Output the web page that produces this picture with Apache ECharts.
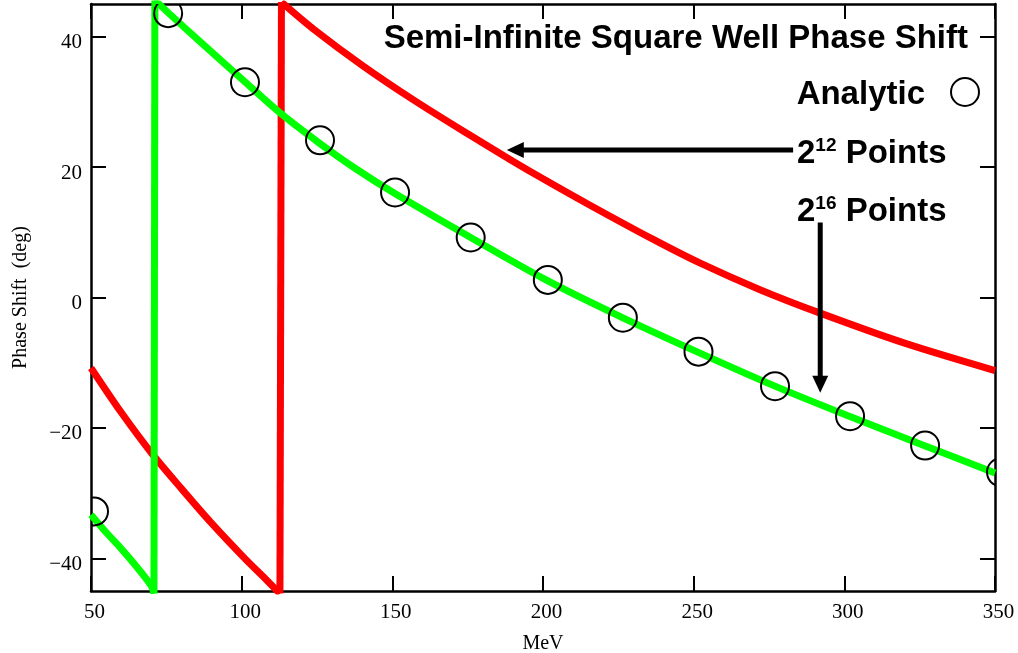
<!DOCTYPE html>
<html>
<head>
<meta charset="utf-8">
<script src="https://cdn.jsdelivr.net/npm/echarts@6/dist/echarts.min.js"></script>
<style>
  html, body { margin: 0; padding: 0; background: #fff; }
  #chart { width: 1018px; height: 653px; }
</style>
</head>
<body>
<div id="chart"></div>
<script>
// Phase shift (deg) vs energy (MeV), wrapped into [-45, 45]; each curve has two branches
const mev12Lo = [50, 60, 70, 80, 90, 101, 108, 112.7];
const deg12Lo = [-10.8, -17.6, -23.8, -29.3, -34.6, -40.0, -43.2, -45.4];
const mev12Hi = [113.2, 124, 140, 157, 175, 190, 200, 215, 236.6, 252, 272, 292, 320, 350];
const deg12Hi = [45.3, 41.1, 35.6, 30.3, 25.1, 20.9, 18.2, 14.3, 8.9, 5.3, 1.2, -2.4, -7.0, -11.2];

const mev16Lo = [50, 55, 60, 65, 70, 70.9];
const deg16Lo = [-33.3, -36.0, -38.5, -41.2, -44.2, -45.4];
const mev16Hi = [71.2, 76, 86, 101, 113, 126, 138, 151, 176, 201, 226, 251, 276, 301, 326, 350];
const deg16Hi = [45.6, 43.5, 39.3, 33.1, 28.2, 23.6, 19.7, 15.9, 9.2, 2.7, -3.0, -8.3, -13.4, -18.1, -22.6, -26.9];

const mevAnalytic = [51, 75.6, 101.1, 126, 150.9, 176, 201.6, 226.5, 251.6, 277, 301.9, 326.8, 352];
const degAnalytic = [-32.8, 43.6, 33.0, 24.1, 16.1, 9.2, 2.7, -3.1, -8.3, -13.6, -18.2, -22.7, -26.8];

const yTicks = [-40, -20, 0, 20, 40];

// Pointer arrows from the labels to the curves: [fromMeV, fromDeg, toMeV, toDeg]
const arrows = [
  [283, 22.6, 188, 22.6],
  [292, 11.5, 292, -14.6]
];

const zip = (xs, ys) => xs.map((x, i) => [x, ys[i]]);
const last = a => a[a.length - 1];

const SERIF = '"Liberation Serif", "Times New Roman", serif';
const SANS = '"Liberation Sans", Arial, Helvetica, sans-serif';
const axisLine = { show: true, onZero: false, lineStyle: { color: '#000', width: 2.5 } };
const axisTick = { show: true, inside: true, length: 15, lineStyle: { color: '#000', width: 2 } };

const RED = '#ff0000', GREEN = '#00ff00';

function branch(name, xs, ys, color, z) {
  return {
    name, type: 'line', data: zip(xs, ys),
    showSymbol: false, clip: true, smooth: 0.3, z,
    lineStyle: { color, width: 7 }
  };
}
// Vertical wrap-around jump joining the end of one branch to the start of the next
function jump(name, loX, loY, hiX, hiY, color, z) {
  return {
    name, type: 'line', data: [[last(loX), last(loY)], [hiX[0], hiY[0]]],
    showSymbol: false, clip: true, z,
    lineStyle: { color, width: 7 }
  };
}

const chart = echarts.init(document.getElementById('chart'), null, { renderer: 'canvas' });

const legendFont = { fontSize: 33, fontWeight: 'bold', fontFamily: SANS, fill: '#000' };
function powerLabel(exp, y) {
  return {
    type: 'text', x: 797, y: y, z: 20,
    style: {
      text: '{b|2}{s|' + exp + '}{b| Points}',
      textAlign: 'left', textVerticalAlign: 'middle',
      rich: {
        b: { fontSize: 33, fontWeight: 'bold', fontFamily: SANS, color: '#000', lineHeight: 36 },
        s: { fontSize: 19, fontWeight: 'bold', fontFamily: SANS, color: '#000', lineHeight: 22, verticalAlign: 'top' }
      }
    }
  };
}

chart.setOption({
  animation: false,
  backgroundColor: '#fff',
  grid: { left: 91, right: 23, top: 4, bottom: 62, outerBoundsMode: 'none' },
  xAxis: [
    {
      type: 'value', position: 'bottom', min: 50, max: 350, interval: 50,
      axisLine, axisTick,
      axisLabel: { color: '#000', fontFamily: SERIF, fontSize: 21, margin: 11, padding: [0, 0, 0, 7] },
      splitLine: { show: false },
      name: 'MeV', nameLocation: 'middle', nameGap: 43,
      nameTextStyle: { color: '#000', fontFamily: SERIF, fontSize: 20 }
    },
    {
      type: 'value', position: 'top', min: 50, max: 350, interval: 50,
      axisLine, axisTick,
      axisLabel: { show: false }, splitLine: { show: false }
    }
  ],
  yAxis: [
    {
      type: 'value', position: 'left', min: -45, max: 45,
      axisLine,
      axisTick: Object.assign({ customValues: yTicks }, axisTick),
      axisLabel: {
        customValues: yTicks, color: '#000', fontFamily: SERIF, fontSize: 21,
        margin: 9, verticalAlign: 'top', lineHeight: 12,
        formatter: v => String(v).replace('-', '\u2212')
      },
      splitLine: { show: false },
      name: 'Phase Shift  (deg)', nameLocation: 'middle', nameGap: 60,
      nameTextStyle: { color: '#000', fontFamily: SERIF, fontSize: 20 }
    },
    {
      type: 'value', position: 'right', min: -45, max: 45,
      axisLine,
      axisTick: Object.assign({ customValues: yTicks }, axisTick),
      axisLabel: { show: false }, splitLine: { show: false }
    }
  ],
  series: [
    branch('2^12 Points', mev12Lo, deg12Lo, RED, 2),
    jump('2^12 wrap', mev12Lo, deg12Lo, mev12Hi, deg12Hi, RED, 2),
    branch('2^12 Points', mev12Hi, deg12Hi, RED, 2),
    branch('2^16 Points', mev16Lo, deg16Lo, GREEN, 3),
    jump('2^16 wrap', mev16Lo, deg16Lo, mev16Hi, deg16Hi, GREEN, 3),
    branch('2^16 Points', mev16Hi, deg16Hi, GREEN, 3),
    {
      name: 'Analytic', type: 'custom', data: zip(mevAnalytic, degAnalytic),
      encode: { x: 0, y: 1 }, clip: true, z: 5,
      renderItem: (params, api) => {
        const p = api.coord([api.value(0), api.value(1)]);
        return {
          type: 'circle',
          shape: { cx: p[0], cy: p[1], r: 14 },
          style: { fill: 'none', stroke: '#000', lineWidth: 2 }
        };
      }
    },
    {
      name: 'arrows', type: 'custom', data: arrows,
      encode: { x: [0, 2], y: [1, 3] }, clip: false, z: 6,
      renderItem: (params, api) => {
        const a = api.coord([api.value(0), api.value(1)]);
        const b = api.coord([api.value(2), api.value(3)]);
        const dx = b[0] - a[0], dy = b[1] - a[1];
        const len = Math.hypot(dx, dy);
        const ux = dx / len, uy = dy / len;
        const head = 17, half = 8;
        const bx = b[0] - ux * head, by = b[1] - uy * head;
        return {
          type: 'group',
          children: [
            { type: 'line', shape: { x1: a[0], y1: a[1], x2: bx + ux, y2: by + uy },
              style: { stroke: '#000', lineWidth: 5 } },
            { type: 'polygon',
              shape: { points: [[b[0], b[1]], [bx - uy * half, by + ux * half], [bx + uy * half, by - ux * half]] },
              style: { fill: '#000' } }
          ]
        };
      }
    }
  ],
  graphic: [
    {
      type: 'text', x: 968, y: 38.7, z: 20,
      style: Object.assign({ text: 'Semi-Infinite Square Well Phase Shift', textAlign: 'right', textVerticalAlign: 'middle' }, legendFont)
    },
    {
      type: 'text', x: 925, y: 94.5, z: 20,
      style: Object.assign({ text: 'Analytic', textAlign: 'right', textVerticalAlign: 'middle' }, legendFont)
    },
    {
      type: 'circle', z: 20,
      shape: { cx: 965, cy: 92, r: 14 },
      style: { fill: 'none', stroke: '#000', lineWidth: 2 }
    },
    powerLabel('12', 153.8),
    powerLabel('16', 212)
  ]
});
</script>
</body>
</html>
